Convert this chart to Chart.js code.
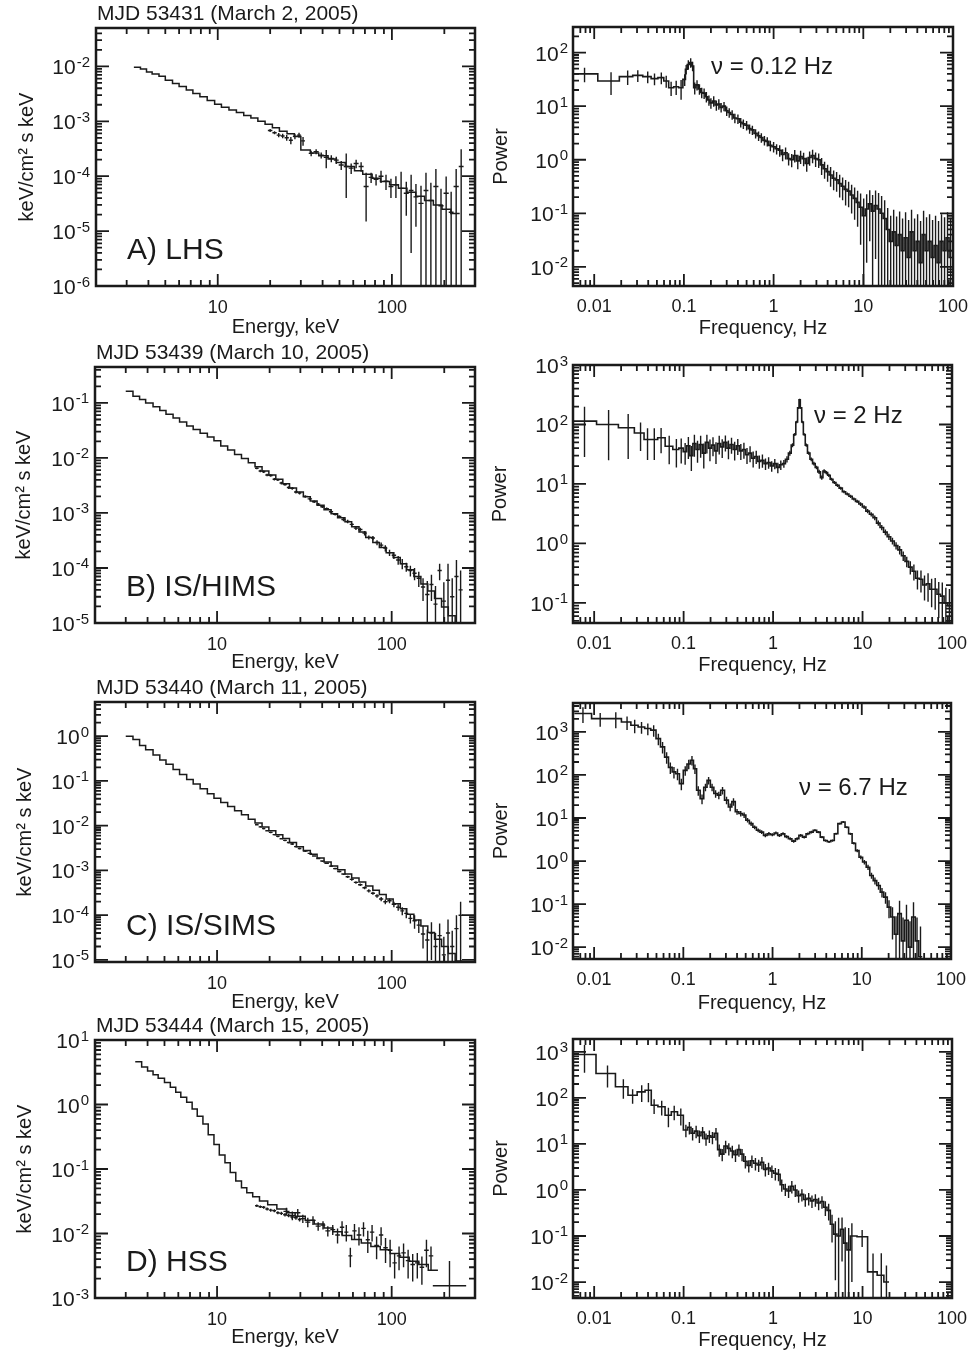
<!DOCTYPE html>
<html>
<head>
<meta charset="utf-8">
<title>X-ray spectra and power density spectra</title>
<script src="https://cdn.jsdelivr.net/npm/chart.js@4.4.1/dist/chart.umd.min.js"></script>
<style>
  html, body { margin: 0; padding: 0; background: #fff; }
  #page { position: relative; width: 974px; height: 1355px; overflow: hidden; background: #fff; }
  #page canvas { position: absolute; }
</style>
</head>
<body>
<div id="page">
  <canvas id="cA1"></canvas><canvas id="cA2"></canvas>
  <canvas id="cB1"></canvas><canvas id="cB2"></canvas>
  <canvas id="cC1"></canvas><canvas id="cC2"></canvas>
  <canvas id="cD1"></canvas><canvas id="cD2"></canvas>
</div>
<script>
// ================= DATA =================
// Axis tick labels
const energyTicks = [10, 100];
const energyTickLabels = ['10', '100'];
const freqTicks = [0.01, 0.1, 1, 10, 100];
const freqTickLabels = ['0.01', '0.1', '1', '10', '100'];

// ---- Panel A: MJD 53431 (LHS) ----
// model step line: bin edges (keV) and values (keV/cm^2 s keV)
const specA_modelE = [3.3, 3.6, 3.9, 4.2, 4.6, 5.0, 5.5, 6.0, 6.6, 7.2, 7.9, 8.7, 9.6, 10.5, 11.6, 12.8, 14.1, 15.5, 17.0, 18.7, 20.6, 22.6, 25.0, 27.5, 30, 34, 38, 43, 48, 54, 61, 68, 77, 86, 97, 109, 122, 137, 154, 173, 194, 218, 245];
const specA_modelF = [9.6e-3, 9.0e-3, 7.9e-3, 7.3e-3, 6.6e-3, 5.6e-3, 4.9e-3, 4.3e-3, 3.7e-3, 3.2e-3, 2.8e-3, 2.4e-3, 2.05e-3, 1.8e-3, 1.6e-3, 1.45e-3, 1.28e-3, 1.15e-3, 1.0e-3, 8.8e-4, 7.6e-4, 6.6e-4, 5.9e-4, 5.3e-4, 3.0e-4, 2.65e-4, 2.35e-4, 2.05e-4, 1.78e-4, 1.5e-4, 1.25e-4, 1.08e-4, 9.2e-5, 8.0e-5, 7.0e-5, 6.0e-5, 5.1e-5, 4.3e-5, 3.6e-5, 3.0e-5, 2.5e-5, 2.1e-5];
const specA_jemE = [19.4, 20.6, 21.8, 23.0, 24.2, 25.6, 27.0, 28.5, 30.1, 31.7];
const specA_jemF = [6.8e-4, 6.2e-4, 5.6e-4, 5.4e-4, 5.0e-4, 4.5e-4, 5.3e-4, 5.6e-4, 4.4e-4];
const specA_jemErr = [4e-5, 4e-5, 5e-5, 5e-5, 6e-5, 7e-5, 6e-5, 6e-5, 8e-5];
const specA_isgE = [33.3, 35.5, 38.0, 40.6, 43.4, 46.4, 49.5, 52.9, 56.5, 60.3, 64.4, 68.8, 73.5, 78.5, 83.8, 89.5, 95.6, 102, 109, 117, 125, 133, 142, 152, 162, 173, 185, 198, 212, 226, 242, 258];
const specA_isgF = [2.6e-4, 2.8e-4, 2.4e-4, 2.2e-4, 2.1e-4, 1.96e-4, 1.6e-4, 1.5e-4, 1.4e-4, 1.7e-4, 1.5e-4, 6.5e-5, 9.5e-5, 8.8e-5, 1.0e-4, 8.1e-5, 6.5e-5, 7.0e-5, 6.0e-5, 4.9e-5, 5.5e-5, 4.2e-5, 3.2e-5, 5.5e-5, 3.6e-5, 6.5e-5, 2.9e-5, 4.9e-5, 2.2e-5, 6.5e-5, 1.5e-4];
const specA_isgErr = [3e-5, 3e-5, 3e-5, 8e-5, 3e-5, 3e-5, 3e-5, 1.1e-4, 3e-5, 3e-5, 3e-5, 5e-5, 2e-5, 2e-5, 2.5e-5, 2.5e-5, 2.5e-5, 3e-5, 6e-5, 3e-5, 5.1e-5, 3e-5, 3.5e-5, 6e-5, 4e-5, 7e-5, 3e-5, 5e-5, 3e-5, 7e-5, 1.6e-4];
// PDS: bin centre frequency (Hz), power, relative error
const pdsA_f = [0.0078, 0.0154, 0.0236, 0.0306, 0.0395, 0.047, 0.056, 0.0635, 0.072, 0.082,
  0.093, 0.102, 0.106, 0.112, 0.119, 0.125, 0.132, 0.14, 0.149, 0.158,
  0.168, 0.178, 0.19, 0.2, 0.215, 0.23, 0.245, 0.26, 0.28, 0.3,
  0.32, 0.345, 0.37, 0.4, 0.43, 0.46, 0.5, 0.54, 0.58, 0.63,
  0.68, 0.73, 0.79, 0.85, 0.92, 1.0, 1.08, 1.17, 1.26, 1.36,
  1.47, 1.59, 1.72, 1.86, 2.0, 2.16, 2.34, 2.52, 2.72, 2.94,
  3.18, 3.43, 3.7, 4.0, 4.32, 4.67, 5.04, 5.45, 5.88, 6.35,
  6.86, 7.41, 8.0, 8.64, 9.33, 10.1, 10.9, 11.8, 12.7, 13.7,
  14.8, 16.0, 17.3, 18.7, 20.2, 21.8, 23.5, 25.4, 27.4, 29.6,
  32.0, 34.5, 37.3, 40.3, 43.5, 47.0, 50.7, 54.8, 59.2, 63.9,
  69.0, 74.5, 80.5, 86.9, 93.9];
const pdsA_p = [40, 29.5, 35.5, 37.5, 35.5, 32.6, 34, 29.5, 22, 23,
  22, 31.6, 48.7, 60, 65, 56, 22, 25, 21, 18,
  17.5, 15, 13, 11.5, 12.5, 10.5, 11, 9.5, 10, 8.2,
  7.6, 7.0, 6.0, 5.8, 5.0, 4.7, 4.4, 3.8, 3.6, 3.1,
  2.8, 2.6, 2.3, 2.2, 1.85, 1.75, 1.6, 1.5, 1.25, 1.35,
  1.05, 1.0, 1.2, 0.95, 1.15, 1.05, 0.85, 1.1, 1.2, 1.05,
  1.0, 0.8, 0.68, 0.6, 0.52, 0.45, 0.42, 0.36, 0.32, 0.28,
  0.26, 0.22, 0.19, 0.16, 0.13, 0.09, 0.12, 0.15, 0.11, 0.14,
  0.12, 0.1, 0.08, 0.05, 0.03, 0.045, 0.025, 0.04, 0.02, 0.035,
  0.015, 0.045, 0.02, 0.03, 0.012, 0.04, 0.02, 0.03, 0.015, 0.025,
  0.012, 0.03, 0.02, 0.035, 0.015];
const pdsA_r = [0.3, 0.45, 0.3, 0.25, 0.25, 0.25, 0.25, 0.25, 0.3, 0.3,
  0.4, 0.25, 0.2, 0.2, 0.2, 0.2, 0.25, 0.22, 0.22, 0.22,
  0.22, 0.22, 0.22, 0.22, 0.22, 0.22, 0.22, 0.2, 0.2, 0.2,
  0.2, 0.2, 0.2, 0.2, 0.2, 0.2, 0.2, 0.2, 0.2, 0.2,
  0.2, 0.2, 0.2, 0.2, 0.22, 0.22, 0.22, 0.24, 0.25, 0.25,
  0.26, 0.28, 0.26, 0.3, 0.28, 0.28, 0.3, 0.3, 0.28, 0.3,
  0.3, 0.35, 0.35, 0.35, 0.4, 0.4, 0.4, 0.45, 0.45, 0.5,
  0.5, 0.55, 0.6, 0.65, 0.8, 1.1, 0.9, 0.8, 1.0, 0.9,
  1.0, 1.1, 1.2, 1.5, 2.0, 1.6, 2.5, 1.7, 3.0, 2.0,
  4.0, 1.6, 3.0, 2.2, 5.0, 1.8, 3.2, 2.2, 4.0, 2.6,
  5.0, 2.2, 3.2, 2.0, 4.5];

// ---- shared instrument binning (panels B, C, D) ----
const jemxEdges = [16.5, 17.3, 18.1, 18.9, 19.8, 20.8, 21.8, 22.8, 23.9, 25.1, 26.3, 27.6, 29.0, 30.4];
const isgriEdges = [31, 33, 35, 37, 39, 41.2, 43.7, 46.2, 48.7, 51.5, 54.5, 57.5, 60.7, 64.2, 68, 72, 76, 80.2, 84.7, 89.5, 94.5, 100, 106, 112, 118, 124.5, 131.5, 139, 147, 155.5, 164.5, 173.5, 183, 193.5, 204.5, 216, 228.5, 241.5, 255];
const modelEdgesBC = [3.0, 3.3, 3.6, 3.9, 4.3, 4.7, 5.1, 5.6, 6.1, 6.7, 7.3, 8.0, 8.8, 9.6, 10.5, 11.5, 12.6, 13.8, 15.1, 16.5, 18.1, 19.8, 21.7, 23.8, 26, 28.5, 31.2, 34.2, 37.4, 41, 45, 49, 54, 59, 65, 71, 78, 85, 93, 102, 112, 122, 134, 147, 161, 176, 193, 211, 231, 253];

// ---- Panel B: MJD 53439 (IS/HIMS) ----
const specB_modelF = [0.163, 0.132, 0.115, 0.1, 0.085, 0.073, 0.062, 0.053, 0.045, 0.038,
  0.033, 0.028, 0.024, 0.0205, 0.0165, 0.014, 0.0116, 0.0098, 0.0082, 0.0069,
  0.0058, 0.0049, 0.0041, 0.0034, 0.00285, 0.0024, 0.00198, 0.00165, 0.00138, 0.00115,
  0.00097, 0.00082, 0.00069, 0.00056, 0.00045, 0.00036, 0.00029, 0.000235, 0.00019, 0.000155,
  0.00012, 0.000093, 0.00007, 0.000051, 0.000038, 0.000028, 0.0000195, 0.0000135, 0.000009];
const specB_jemF = [6.5e-3, 5.8e-3, 5.6e-3, 4.9e-3, 4.8e-3, 4.1e-3, 4.0e-3, 3.5e-3, 3.3e-3, 2.9e-3, 2.8e-3, 2.4e-3, 2.3e-3];
const specB_jemErr = [3e-4, 3e-4, 3e-4, 2.5e-4, 2.5e-4, 2e-4, 2e-4, 2e-4, 1.8e-4, 1.6e-4, 1.5e-4, 1.4e-4, 1.4e-4];
const specB_isgF = [2.0e-3, 1.8e-3, 1.6e-3, 1.45e-3, 1.3e-3, 1.2e-3, 1.05e-3, 9.5e-4, 8.6e-4, 7.6e-4,
  7.0e-4, 6.2e-4, 5.3e-4, 5.0e-4, 4.3e-4, 3.6e-4, 3.5e-4, 2.9e-4, 2.6e-4, 2.3e-4,
  1.9e-4, 1.7e-4, 1.4e-4, 1.2e-4, 1.05e-4, 9.0e-5, 8.0e-5, 6.5e-5, 4.5e-5, 3.3e-5,
  5.0e-5, 2.2e-5, 9.0e-5, 2.5e-5, 6.0e-5, 3.0e-5, 7.0e-5, 4.0e-5];
const specB_isgErr = [1e-4, 9e-5, 8e-5, 7e-5, 7e-5, 6e-5, 6e-5, 5e-5, 5e-5, 5e-5,
  5e-5, 4e-5, 4e-5, 4e-5, 4e-5, 3e-5, 3e-5, 3e-5, 3e-5, 3e-5,
  2.5e-5, 2.5e-5, 2.5e-5, 2.5e-5, 2e-5, 2e-5, 2e-5, 2e-5, 2e-5, 2.5e-5,
  2.5e-5, 2.5e-5, 3e-5, 3e-5, 6e-5, 3.5e-5, 7e-5, 5e-5];
const pdsB_f = [0.0078, 0.0145, 0.024, 0.033, 0.0395, 0.047, 0.056, 0.069, 0.083, 0.094,
  0.104, 0.113, 0.122, 0.132, 0.143, 0.155, 0.168, 0.182, 0.197, 0.213,
  0.23, 0.25, 0.27, 0.293, 0.317, 0.343, 0.372, 0.403, 0.436, 0.472,
  0.511, 0.553, 0.599, 0.648, 0.702, 0.76, 0.823, 0.891, 0.965, 1.045,
  1.13, 1.22, 1.32, 1.43, 1.54, 1.65, 1.75, 1.84, 1.92, 1.98,
  2.05, 2.13, 2.23, 2.35, 2.5, 2.67, 2.86, 3.06, 3.27, 3.5,
  3.72, 3.95, 4.2, 4.5, 4.85, 5.25, 5.7, 6.2, 6.75, 7.35,
  8.0, 8.7, 9.5, 10.4, 11.4, 12.5, 13.7, 15.0, 16.4, 18.0,
  19.7, 21.6, 23.7, 26.0, 28.5, 31.2, 34.2, 37.5, 41.1, 45.0,
  49.3, 54.0, 59.2, 64.9, 71.1, 77.9, 85.4, 93.6];
const pdsB_p = [114, 100, 88, 72, 56, 56, 60, 43, 38, 40,
  35, 44, 30, 48, 38, 46, 33, 50, 40, 45,
  36, 48, 42, 50, 40, 46, 38, 44, 36, 38,
  31, 33, 27, 29, 24, 25, 22, 23, 20, 22,
  19, 21, 22, 26, 33, 45, 68, 110, 190, 260,
  190, 110, 68, 45, 33, 26, 22, 19, 16, 12.8,
  16.5, 15.5, 14, 12, 10.6, 9.5, 8.5, 7.4, 6.8, 6.2,
  5.6, 5.1, 4.6, 4.1, 3.5, 3.1, 2.7, 2.2, 1.85, 1.55,
  1.3, 1.1, 0.92, 0.78, 0.62, 0.5, 0.4, 0.34, 0.26, 0.25,
  0.2, 0.21, 0.17, 0.17, 0.14, 0.13, 0.1, 0.09];
const pdsB_r = [0.75, 0.75, 0.7, 0.5, 0.55, 0.55, 0.45, 0.5, 0.5, 0.45,
  0.4, 0.4, 0.45, 0.4, 0.4, 0.4, 0.45, 0.35, 0.4, 0.35,
  0.4, 0.35, 0.35, 0.3, 0.35, 0.3, 0.35, 0.3, 0.3, 0.3,
  0.3, 0.3, 0.3, 0.25, 0.25, 0.25, 0.22, 0.22, 0.2, 0.2,
  0.2, 0.18, 0.15, 0.12, 0.1, 0.08, 0.06, 0.05, 0.04, 0.04,
  0.04, 0.05, 0.05, 0.06, 0.06, 0.07, 0.07, 0.07, 0.08, 0.08,
  0.07, 0.07, 0.06, 0.06, 0.06, 0.06, 0.06, 0.06, 0.06, 0.06,
  0.06, 0.06, 0.07, 0.07, 0.08, 0.08, 0.09, 0.1, 0.1, 0.11,
  0.12, 0.13, 0.14, 0.16, 0.18, 0.2, 0.25, 0.3, 0.35, 0.4,
  0.45, 0.5, 0.5, 0.55, 0.6, 0.7, 0.8, 0.9];

// ---- Panel C: MJD 53440 (IS/SIMS) ----
const specC_modelF = [1.0, 0.84, 0.62, 0.5, 0.38, 0.295, 0.235, 0.18, 0.14, 0.108,
  0.085, 0.067, 0.052, 0.041, 0.033, 0.027, 0.0215, 0.0175, 0.014, 0.0115,
  0.0094, 0.0077, 0.0063, 0.0052, 0.0042, 0.0034, 0.0028, 0.0023, 0.0019, 0.00155,
  0.00126, 0.00103, 0.00083, 0.00068, 0.00055, 0.00045, 0.00036, 0.00029, 0.00023, 0.00018,
  0.00014, 0.000105, 0.000078, 0.000057, 0.000041, 0.000029, 0.00002, 0.000014, 0.0000095];
const specC_jemF = [0.0105, 0.0094, 0.0086, 0.0077, 0.0071, 0.0063, 0.0058, 0.0051, 0.0047, 0.0042, 0.0039, 0.0034, 0.0031];
const specC_jemErr = [4e-4, 4e-4, 3.5e-4, 3e-4, 3e-4, 2.5e-4, 2.5e-4, 2e-4, 2e-4, 2e-4, 1.8e-4, 1.6e-4, 1.5e-4];
const specC_isgF = [2.7e-3, 2.4e-3, 2.1e-3, 1.85e-3, 1.62e-3, 1.45e-3, 1.25e-3, 1.1e-3, 9.5e-4, 8.3e-4,
  7.2e-4, 6.3e-4, 5.4e-4, 4.8e-4, 4.1e-4, 3.5e-4, 3.1e-4, 2.7e-4, 2.3e-4, 2.0e-4,
  2.1e-4, 1.75e-4, 1.5e-4, 1.25e-4, 1.1e-4, 8.5e-5, 7.5e-5, 6.0e-5, 3.8e-5, 2.8e-5,
  4.0e-5, 2.0e-5, 3.5e-5, 1.3e-5, 4.0e-5, 2.0e-5, 5.0e-5, 1.0e-4];
const specC_isgErr = [1.2e-4, 1e-4, 9e-5, 8e-5, 7e-5, 6e-5, 6e-5, 5e-5, 5e-5, 4e-5,
  4e-5, 4e-5, 3.5e-5, 3e-5, 3e-5, 3e-5, 2.5e-5, 2.5e-5, 2.5e-5, 2.5e-5,
  2.5e-5, 2.5e-5, 2.5e-5, 2.5e-5, 2.5e-5, 2e-5, 2.5e-5, 2e-5, 2e-5, 2e-5,
  3e-5, 2e-5, 3e-5, 2e-5, 4e-5, 2.5e-5, 5e-5, 1e-4];
const pdsC_f = [0.0075, 0.0117, 0.0175, 0.0234, 0.0285, 0.034, 0.040, 0.0465, 0.0525, 0.0585,
  0.065, 0.0715, 0.0785, 0.086, 0.095, 0.105, 0.115, 0.125, 0.135, 0.147,
  0.162, 0.177, 0.192, 0.21, 0.23, 0.25, 0.275, 0.305, 0.335, 0.365,
  0.40, 0.44, 0.48, 0.525, 0.575, 0.63, 0.69, 0.755, 0.83, 0.91,
  0.995, 1.09, 1.195, 1.31, 1.435, 1.575, 1.725, 1.885, 2.065, 2.265,
  2.485, 2.725, 2.985, 3.27, 3.585, 3.925, 4.3, 4.7, 5.15, 5.65,
  6.2, 6.8, 7.45, 8.15, 8.9, 9.75, 10.7, 11.75, 12.85, 14.05,
  15.4, 16.85, 18.45, 20.2, 22.1, 24.2, 26.5, 29, 31.7, 34.7,
  38, 41.6, 45.5];
const pdsC_p = [2670, 2040, 2040, 1700, 1430, 1300, 1200, 1100, 700, 450,
  260, 150, 118, 107, 63, 128, 180, 220, 140, 44,
  28, 52, 75, 52, 37, 34, 44, 26, 18, 24,
  14, 12.7, 11.7, 8.9, 7.4, 6.1, 5.2, 4.7, 3.95, 4.3,
  4.1, 4.5, 3.95, 4.3, 3.7, 3.3, 2.9, 3.3, 3.95, 3.6,
  4.3, 4.7, 5.2, 4.7, 3.6, 3.0, 2.8, 3.0, 4.3, 7.4,
  8.1, 6.1, 4.3, 2.6, 1.75, 1.23, 0.95, 0.72, 0.46, 0.35,
  0.27, 0.19, 0.145, 0.085, 0.05, 0.02, 0.06, 0.014, 0.042, 0.01,
  0.05, 0.014, 0.006];
const pdsC_r = [0.4, 0.35, 0.4, 0.35, 0.35, 0.3, 0.3, 0.3, 0.3, 0.3,
  0.3, 0.3, 0.3, 0.3, 0.3, 0.25, 0.25, 0.25, 0.25, 0.25,
  0.25, 0.2, 0.2, 0.2, 0.2, 0.2, 0.2, 0.2, 0.2, 0.2,
  0.15, 0.15, 0.15, 0.12, 0.12, 0.1, 0.1, 0.1, 0.1, 0.1,
  0.08, 0.08, 0.08, 0.08, 0.08, 0.08, 0.08, 0.08, 0.07, 0.07,
  0.07, 0.07, 0.06, 0.06, 0.06, 0.06, 0.06, 0.06, 0.05, 0.05,
  0.05, 0.05, 0.06, 0.07, 0.08, 0.1, 0.12, 0.14, 0.16, 0.18,
  0.2, 0.25, 0.3, 0.45, 0.7, 1.6, 1.0, 2.5, 1.3, 3.0,
  1.2, 2.5, 4.0];

// ---- Panel D: MJD 53444 (HSS) ----
const specD_modelE = [3.4, 3.7, 4.0, 4.3, 4.6, 5.0, 5.4, 5.8, 6.2, 6.7, 7.2, 7.7, 8.3, 8.9, 9.6, 10.3, 11.1, 11.9, 12.8, 13.8, 14.8, 16, 17.5, 19.5, 22, 25, 28, 32, 36, 41, 46, 52, 59, 67, 76, 86, 98, 111, 126, 143, 162, 184];
const specD_modelF = [4.6, 3.8, 3.3, 2.9, 2.55, 2.2, 1.85, 1.55, 1.3, 1.08,
  0.85, 0.66, 0.5, 0.34, 0.24, 0.165, 0.125, 0.088, 0.065, 0.051,
  0.043, 0.037, 0.032, 0.028, 0.024, 0.021, 0.0185, 0.016, 0.014, 0.0122,
  0.0106, 0.0093, 0.0081, 0.0071, 0.0063, 0.0056, 0.0049, 0.0043, 0.0037, 0.0033,
  0.0027];
const specD_jemF = [0.027, 0.026, 0.0255, 0.024, 0.023, 0.0225, 0.021, 0.0205, 0.0195, 0.019, 0.018, 0.0175, 0.0165];
const specD_jemErr = [0.0012, 0.0012, 0.0012, 0.0012, 0.0012, 0.0012, 0.0012, 0.0012, 0.0012, 0.0012, 0.0012, 0.0012, 0.0012];
const specD_isgE = [24, 26, 28, 30, 32, 34.2, 36.7, 39.2, 41.7, 44.5, 47.5, 50.5, 53.5, 56.5, 59.5, 63, 67, 71, 75, 79.5, 84.5, 89.5, 95, 101, 107, 113.5, 120.5, 128, 136, 144.5, 153.5, 163, 173];
const specD_isgF = [0.022, 0.019, 0.021, 0.017, 0.015, 0.016, 0.013, 0.0135, 0.011, 0.0115,
  0.0095, 0.0125, 0.0105, 0.0045, 0.011, 0.0095, 0.012, 0.008, 0.0105, 0.0065,
  0.0095, 0.006, 0.0055, 0.0035, 0.0045, 0.005, 0.0038, 0.0033, 0.0035, 0.003,
  0.0055, 0.0045];
const specD_isgErr = [0.003, 0.003, 0.003, 0.0025, 0.0025, 0.0025, 0.002, 0.002, 0.002, 0.002,
  0.0025, 0.003, 0.003, 0.0015, 0.003, 0.003, 0.003, 0.003, 0.003, 0.0025,
  0.003, 0.0025, 0.0025, 0.0015, 0.0018, 0.002, 0.0018, 0.0015, 0.0015, 0.0014,
  0.0025, 0.0018];
const specD_tailE = [172, 267];
const specD_tailF = [0.00155];
const specD_tailErr = [0.0022];
const pdsD_f = [0.0078, 0.0141, 0.0212, 0.0269, 0.034, 0.0404, 0.0468, 0.0569, 0.0676, 0.0785,
  0.093, 0.106, 0.116, 0.126, 0.138, 0.15, 0.163, 0.178, 0.194, 0.21,
  0.23, 0.25, 0.27, 0.295, 0.32, 0.35, 0.38, 0.415, 0.45, 0.49,
  0.535, 0.58, 0.635, 0.69, 0.75, 0.82, 0.89, 0.97, 1.06, 1.15,
  1.25, 1.37, 1.49, 1.62, 1.77, 1.93, 2.1, 2.29, 2.5, 2.72,
  2.97, 3.23, 3.52, 3.84, 4.18, 4.56, 4.97, 5.4, 5.9, 6.4,
  7.0, 7.6, 9.9, 13.1, 16.2, 18.5];
const pdsD_p = [875, 338, 174, 114, 135, 146, 69, 64, 42, 50,
  42, 20, 23, 17, 19, 15, 18, 13, 15, 14,
  17, 7.5, 6, 9, 8, 7, 5.8, 7.5, 6, 4.2,
  3.4, 4.3, 3.8, 3.5, 4.0, 2.8, 3.0, 2.6, 2.3, 2.2,
  1.3, 1.05, 0.95, 1.2, 1.0, 0.75, 0.8, 0.62, 0.66, 0.58,
  0.62, 0.52, 0.56, 0.42, 0.36, 0.18, 0.11, 0.1, 0.14, 0.07,
  0.05, 0.1, 0.096, 0.0166, 0.014, 0.01];
const pdsD_r = [0.6, 0.5, 0.45, 0.35, 0.4, 0.45, 0.35, 0.35, 0.45, 0.35,
  0.4, 0.3, 0.3, 0.3, 0.3, 0.3, 0.3, 0.3, 0.3, 0.3,
  0.3, 0.3, 0.3, 0.3, 0.3, 0.3, 0.3, 0.3, 0.3, 0.3,
  0.3, 0.3, 0.3, 0.3, 0.3, 0.3, 0.3, 0.3, 0.3, 0.3,
  0.3, 0.3, 0.3, 0.3, 0.3, 0.3, 0.3, 0.3, 0.3, 0.3,
  0.3, 0.3, 0.3, 0.35, 0.4, 0.6, 0.9, 1.5, 0.8, 1.2,
  2.0, 0.9, 0.4, 1.5, 2.0, 1.3];

// ================= RENDERING =================
const FONT = '"Liberation Sans", Arial, Helvetica, sans-serif';
const INK = '#1a1a1a';
Chart.defaults.font.family = FONT;
Chart.defaults.color = INK;

const FLOOR = 1e-12; // lower end of an error bar that reaches below zero

function decades(min, max) {
  const out = [];
  for (let d = Math.ceil(Math.log10(min) - 1e-9); d <= Math.floor(Math.log10(max) + 1e-9); d++) out.push(Math.pow(10, d));
  return out;
}
function logTickValues(min, max) {
  const out = [];
  for (let d = Math.floor(Math.log10(min)) - 1; d <= Math.ceil(Math.log10(max)); d++) {
    for (let m = 1; m <= 9; m++) {
      const v = m * Math.pow(10, d);
      if (v >= min * 0.999 && v <= max * 1.001) out.push({v, major: m === 1});
    }
  }
  return out;
}
function centersToEdges(c) {
  const e = [];
  for (let i = 1; i < c.length; i++) e.push(Math.sqrt(c[i - 1] * c[i]));
  e.unshift(c[0] * c[0] / e[0]);
  e.push(c[c.length - 1] * c[c.length - 1] / e[e.length - 1]);
  return e;
}
function stepPoints(edges, vals) {
  const pts = vals.map((v, i) => ({x: edges[i], y: v}));
  pts.push({x: edges[vals.length], y: vals[vals.length - 1]});
  return pts;
}
function crossPoints(edges, vals, errs) {
  const pts = [];
  vals.forEach((v, i) => {
    const a = edges[i], b = edges[i + 1], c = Math.sqrt(a * b);
    const lo = v - errs[i] > 0 ? v - errs[i] : FLOOR;
    pts.push({x: c, y: lo}, {x: c, y: v + errs[i]}, {x: c, y: null},
             {x: a, y: v}, {x: b, y: v}, {x: b, y: null});
  });
  return pts;
}
function pdsErrPoints(f, p, r) {
  const pts = [];
  f.forEach((x, i) => {
    const lo = r[i] < 1 ? p[i] * (1 - r[i]) : FLOOR;
    pts.push({x, y: lo}, {x, y: p[i] * (1 + r[i])}, {x, y: null});
  });
  return pts;
}
const lineStyle = d => Object.assign({showLine: true, borderColor: INK, borderWidth: 1.4,
  pointRadius: 0, pointHoverRadius: 0, spanGaps: false, fill: false}, d);

function spectrumDatasets(modelE, modelF, groups) {
  const ds = [{data: stepPoints(modelE, modelF), stepped: 'before', borderWidth: 1.5}];
  groups.forEach(g => ds.push({data: crossPoints(g[0], g[1], g[2])}));
  return ds.map(lineStyle);
}
function pdsDatasets(f, p, r) {
  return [
    {data: stepPoints(centersToEdges(f), p), stepped: 'before', borderWidth: 1.6},
    {data: pdsErrPoints(f, p, r)}
  ].map(lineStyle);
}

// Frame with inward major/minor ticks on all four sides, power-of-ten y labels, panel texts
const decorPlugin = {
  id: 'decor',
  afterDraw(chart, args, o) {
    const {ctx, chartArea: a} = chart;
    const xs = chart.scales.x, ys = chart.scales.y;
    ctx.save();
    ctx.strokeStyle = INK;
    ctx.lineWidth = 1.8;
    ctx.beginPath();
    for (const t of logTickValues(xs.min, xs.max)) {
      const p = xs.getPixelForValue(t.v);
      if (p <= a.left + 1.5 || p >= a.right - 1.5) continue;
      const len = t.major ? 12 : 6;
      ctx.moveTo(p, a.bottom); ctx.lineTo(p, a.bottom - len);
      ctx.moveTo(p, a.top); ctx.lineTo(p, a.top + len);
    }
    for (const t of logTickValues(ys.min, ys.max)) {
      const p = ys.getPixelForValue(t.v);
      if (p <= a.top + 1.5 || p >= a.bottom - 1.5) continue;
      const len = t.major ? 13 : 6;
      ctx.moveTo(a.left, p); ctx.lineTo(a.left + len, p);
      ctx.moveTo(a.right, p); ctx.lineTo(a.right - len, p);
    }
    ctx.stroke();
    ctx.lineWidth = 2.5;
    ctx.strokeRect(a.left, a.top, a.right - a.left, a.bottom - a.top);

    ctx.fillStyle = INK;
    // y tick labels: 10 with a raised exponent
    ctx.textAlign = 'right';
    ctx.textBaseline = 'alphabetic';
    for (const t of ys.ticks) {
      const py = ys.getPixelForValue(t.value);
      const ex = String(Math.round(Math.log10(t.value)));
      const xr = a.left - o.yLabelGap;
      ctx.font = '15px ' + FONT;
      const ew = ctx.measureText(ex).width;
      ctx.fillText(ex, xr, py + 0.5);
      ctx.font = '21px ' + FONT;
      ctx.fillText('10', xr - ew - 1, py + 8);
    }
    ctx.textAlign = 'left';
    if (o.title) { ctx.font = '21px ' + FONT; ctx.fillText(o.title, a.left + 1, a.top - 8); }
    if (o.label) { ctx.font = '30px ' + FONT; ctx.fillText(o.label, a.left + 31, a.bottom - 27); }
    if (o.note) { ctx.font = '24px ' + FONT; ctx.fillText(o.note, a.left + o.noteDx, a.top + o.noteDy); }
    ctx.restore();
  }
};

const SPEC_Y = 'keV/cm\u00B2 s keV';
const PANELS = [
  {id: 'cA1', box: [0, 0, 487, 340], area: [96, 28, 475, 286], kind: 'E', yMin: 1e-6, yMax: 0.05,
   xTitlePad: 1, yTitlePad: 15, decor: {title: 'MJD 53431 (March 2, 2005)', label: 'A) LHS', yLabelGap: 6},
   datasets: spectrumDatasets(specA_modelE, specA_modelF,
     [[specA_jemE, specA_jemF, specA_jemErr], [specA_isgE, specA_isgF, specA_isgErr]])},
  {id: 'cA2', box: [487, 0, 487, 340], area: [573, 27, 953, 286], kind: 'F', yMin: 0.0044, yMax: 300,
   xTitlePad: 0, yTitlePad: 2, decor: {note: '\u03BD = 0.12 Hz', noteDx: 138, noteDy: 47, yLabelGap: 5},
   datasets: pdsDatasets(pdsA_f, pdsA_p, pdsA_r)},
  {id: 'cB1', box: [0, 340, 487, 340], area: [95, 367, 475, 623], kind: 'E', yMin: 1e-5, yMax: 0.45,
   xTitlePad: 6, yTitlePad: 12, decor: {title: 'MJD 53439 (March 10, 2005)', label: 'B) IS/HIMS', yLabelGap: 6},
   datasets: spectrumDatasets(modelEdgesBC, specB_modelF,
     [[jemxEdges, specB_jemF, specB_jemErr], [isgriEdges, specB_isgF, specB_isgErr]])},
  {id: 'cB2', box: [487, 340, 487, 340], area: [573, 365, 952, 623], kind: 'F', yMin: 0.046, yMax: 1000,
   xTitlePad: 3, yTitlePad: 1, decor: {note: '\u03BD = 2 Hz', noteDx: 241, noteDy: 58, yLabelGap: 5},
   datasets: pdsDatasets(pdsB_f, pdsB_p, pdsB_r)},
  {id: 'cC1', box: [0, 680, 487, 335], area: [95, 702, 475, 962], kind: 'E', yMin: 9e-6, yMax: 5.8,
   xTitlePad: 1, yTitlePad: 13, decor: {title: 'MJD 53440 (March 11, 2005)', label: 'C) IS/SIMS', yLabelGap: 6},
   datasets: spectrumDatasets(modelEdgesBC, specC_modelF,
     [[jemxEdges, specC_jemF, specC_jemErr], [isgriEdges, specC_isgF, specC_isgErr]])},
  {id: 'cC2', box: [487, 680, 487, 335], area: [573, 703, 951, 959], kind: 'F', yMin: 0.0053, yMax: 4700,
   xTitlePad: 0, yTitlePad: 2, decor: {note: '\u03BD = 6.7 Hz', noteDx: 226, noteDy: 92, yLabelGap: 5},
   datasets: pdsDatasets(pdsC_f, pdsC_p, pdsC_r)},
  {id: 'cD1', box: [0, 1015, 487, 340], area: [95, 1040, 475, 1298], kind: 'E', yMin: 1e-3, yMax: 10,
   xTitlePad: 6, yTitlePad: 13, decor: {title: 'MJD 53444 (March 15, 2005)', label: 'D) HSS', yLabelGap: 6},
   datasets: spectrumDatasets(specD_modelE, specD_modelF,
     [[jemxEdges, specD_jemF, specD_jemErr], [specD_isgE, specD_isgF, specD_isgErr],
      [specD_tailE, specD_tailF, specD_tailErr]])},
  {id: 'cD2', box: [487, 1015, 487, 340], area: [573, 1039, 952, 1298], kind: 'F', yMin: 0.0045, yMax: 1900,
   xTitlePad: 3, yTitlePad: 2, decor: {yLabelGap: 5},
   datasets: pdsDatasets(pdsD_f, pdsD_p, pdsD_r)}
];

function makePanel(p) {
  const cv = document.getElementById(p.id);
  const [L, T, W, H] = p.box;
  const [al, at, ar, ab] = p.area;
  cv.width = W; cv.height = H;
  cv.style.left = L + 'px'; cv.style.top = T + 'px';
  cv.style.width = W + 'px'; cv.style.height = H + 'px';
  const yW = al - L, xH = T + H - ab, padTop = at - T, padRight = L + W - ar;
  const isE = p.kind === 'E';
  const xTicks = isE ? energyTicks : freqTicks;
  const xLabels = isE ? energyTickLabels : freqTickLabels;
  new Chart(cv, {
    type: 'scatter',
    data: {datasets: p.datasets},
    options: {
      responsive: false,
      animation: false,
      devicePixelRatio: 1,
      events: [],
      layout: {padding: {top: padTop, right: padRight, left: 0, bottom: 0}},
      plugins: {legend: {display: false}, tooltip: {enabled: false}, decor: p.decor},
      scales: {
        x: {
          type: 'logarithmic', position: 'bottom',
          min: isE ? 2 : 0.0058, max: isE ? 300 : 100,
          grid: {display: false, drawTicks: false}, border: {display: false},
          afterBuildTicks: s => { s.ticks = xTicks.map(v => ({value: v})); },
          afterFit: s => { s.height = xH; s.paddingLeft = 0; s.paddingRight = 0; },
          ticks: {autoSkip: false, maxRotation: 0, minRotation: 0, padding: isE ? 11 : 10,
                  font: {size: 18}, color: INK, callback: (v, i) => xLabels[i]},
          title: {display: true, text: isE ? 'Energy, keV' : 'Frequency, Hz', color: INK,
                  font: {size: 20}, padding: {top: 0, bottom: p.xTitlePad}}
        },
        y: {
          type: 'logarithmic', position: 'left',
          min: p.yMin, max: p.yMax,
          grid: {display: false, drawTicks: false}, border: {display: false},
          afterBuildTicks: s => { s.ticks = decades(p.yMin, p.yMax).map(v => ({value: v})); },
          afterFit: s => { s.width = yW; s.paddingTop = 0; s.paddingBottom = 0; },
          ticks: {display: false},
          title: {display: true, text: isE ? SPEC_Y : 'Power', color: INK,
                  font: {size: 20}, padding: {top: p.yTitlePad, bottom: 0}}
        }
      }
    },
    plugins: [decorPlugin]
  });
}
PANELS.forEach(makePanel);
</script>
</body>
</html>
